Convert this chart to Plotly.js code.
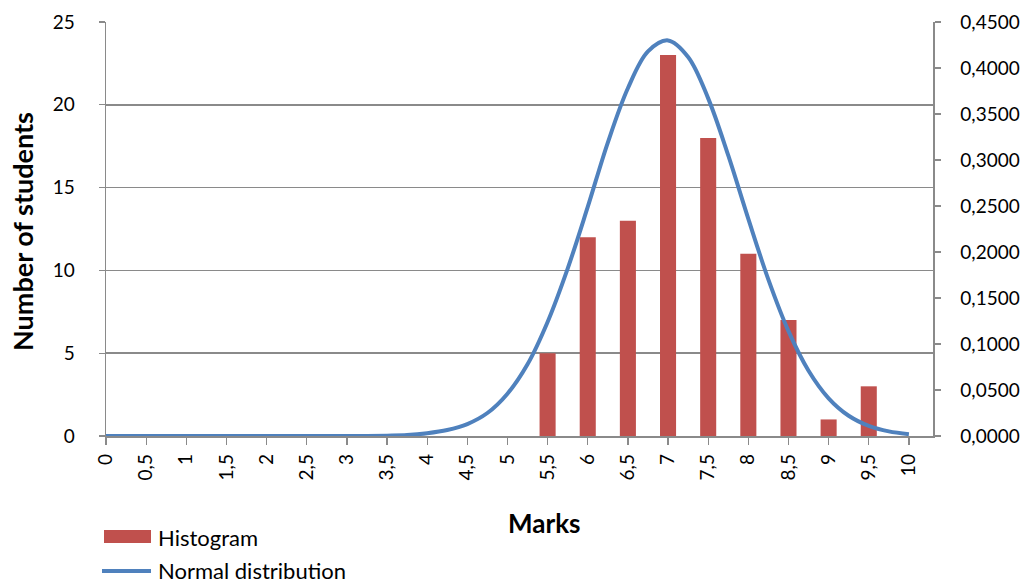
<!DOCTYPE html>
<html>
<head>
<meta charset="utf-8">
<script src="https://cdn.plot.ly/plotly-3.0.1.min.js"></script>
<style>html,body{margin:0;padding:0;background:#fff;}#chart{width:1029px;height:584px;}</style>
</head>
<body>
<div id="chart"></div>
<script>
// Histogram categories (marks) and counts
const marks = [0, 0.5, 1, 1.5, 2, 2.5, 3, 3.5, 4, 4.5, 5, 5.5, 6, 6.5, 7, 7.5, 8, 8.5, 9, 9.5, 10];
const students = [0, 0, 0, 0, 0, 0, 0, 0, 0, 0, 0, 5, 12, 13, 23, 18, 11, 7, 1, 3, 0];

// Normal distribution curve
const curveX = [0, 0.5, 1, 1.5, 2, 2.5, 3, 3.25, 3.5, 3.75, 4, 4.25, 4.5, 4.75, 5, 5.25, 5.5, 5.75, 6, 6.25, 6.5, 6.75, 7, 7.25, 7.5, 7.75, 8, 8.25, 8.5, 8.75, 9, 9.25, 9.5, 9.75, 10];
const curveY = [0, 0, 0, 0, 0, 0, 0, 0.0001, 0.0004, 0.001, 0.003, 0.0065, 0.013, 0.025, 0.046, 0.078, 0.124, 0.182, 0.249, 0.319, 0.378, 0.418, 0.430, 0.412, 0.367, 0.305, 0.236, 0.170, 0.114, 0.071, 0.041, 0.022, 0.011, 0.005, 0.002];

const leftTicks = [0, 5, 10, 15, 20, 25];
const rightTicks = [0, 0.05, 0.1, 0.15, 0.2, 0.25, 0.3, 0.35, 0.4, 0.45];

const seriesNames = ['Histogram', 'Normal distribution'];
const xTitle = 'Marks';
const yTitle = 'Number of students';

const FONT = 'Lato, "Open Sans", sans-serif';
const AXIS = '#8a8a8a';
const RED = '#C0504D';
const BLUE = '#4F81BD';

const traces = [
  {
    type: 'bar', x: marks, y: students, name: seriesNames[0],
    width: 0.2, marker: {color: RED}, yaxis: 'y'
  },
  {
    type: 'scatter', mode: 'lines', x: curveX, y: curveY, name: seriesNames[1],
    line: {color: BLUE, width: 4, shape: 'spline', smoothing: 1}, yaxis: 'y2'
  }
];

// paper coordinate helpers (plot area: x 106..933, y 22..436)
const L = 106, R = 933, T = 22, B = 436;
const px = v => (v - L) / (R - L);
const py = v => (B - v) / (B - T);

const layout = {
  width: 1029, height: 584,
  margin: {l: L, r: 1029 - R, t: T, b: 584 - B, autoexpand: false},
  paper_bgcolor: '#fff', plot_bgcolor: '#fff',
  separators: ', ',
  font: {family: FONT, size: 19, color: '#000'},
  showlegend: false,
  xaxis: {
    automargin: false,
    range: [0, 10.3], tickmode: 'array', tickvals: marks,
    ticktext: marks.map(v => String(v).replace('.', ',')),
    tickangle: -90, ticks: 'outside', ticklen: 7, tickcolor: AXIS, tickwidth: 1.3,
    showline: true, linecolor: AXIS, linewidth: 1.5, showgrid: false, zeroline: false,
    tickfont: {size: 19, family: FONT}, ticklabelstandoff: 2
  },
  yaxis: {
    automargin: false,
    range: [0, 25], tickmode: 'array', tickvals: leftTicks,
    ticks: 'outside', ticklen: 6, tickcolor: AXIS, tickwidth: 1.3,
    showline: true, linecolor: AXIS, linewidth: 1.5,
    showgrid: true, gridcolor: '#8a8a8a', gridwidth: 1.5, zeroline: false,
    tickfont: {size: 19, family: FONT}, ticklabelstandoff: 20
  },
  yaxis2: {
    automargin: false,
    overlaying: 'y', side: 'right', range: [0, 0.45],
    tickmode: 'array', tickvals: rightTicks, tickformat: '.4f',
    ticks: 'outside', ticklen: 6, tickcolor: AXIS, tickwidth: 1.3,
    showline: true, linecolor: AXIS, linewidth: 1.5,
    showgrid: false, zeroline: false,
    tickfont: {size: 19, family: FONT}, ticklabelstandoff: 16
  },
  shapes: [
    {type: 'rect', xref: 'paper', yref: 'paper', x0: px(104), x1: px(151), y0: py(530), y1: py(543),
     fillcolor: RED, line: {width: 0}},
    {type: 'line', xref: 'paper', yref: 'paper', x0: px(102), x1: px(151), y0: py(571), y1: py(571),
     line: {color: BLUE, width: 4}}
  ],
  annotations: [
    {text: '<b>' + xTitle + '</b>', xref: 'paper', yref: 'paper', x: px(544), y: py(523),
     xanchor: 'center', yanchor: 'middle', showarrow: false, font: {size: 26, family: FONT}},
    {text: '<b>' + yTitle + '</b>', xref: 'paper', yref: 'paper', x: px(22), y: py(232),
     xanchor: 'center', yanchor: 'middle', textangle: -90, showarrow: false, font: {size: 27, family: FONT}},
    {text: seriesNames[0], xref: 'paper', yref: 'paper', x: px(156), y: py(537),
     xanchor: 'left', yanchor: 'middle', showarrow: false, font: {size: 22, family: FONT}},
    {text: seriesNames[1], xref: 'paper', yref: 'paper', x: px(156), y: py(570),
     xanchor: 'left', yanchor: 'middle', showarrow: false, font: {size: 22, family: FONT}}
  ]
};

Plotly.newPlot('chart', traces, layout, {displayModeBar: false, staticPlot: true});
</script>
</body>
</html>
